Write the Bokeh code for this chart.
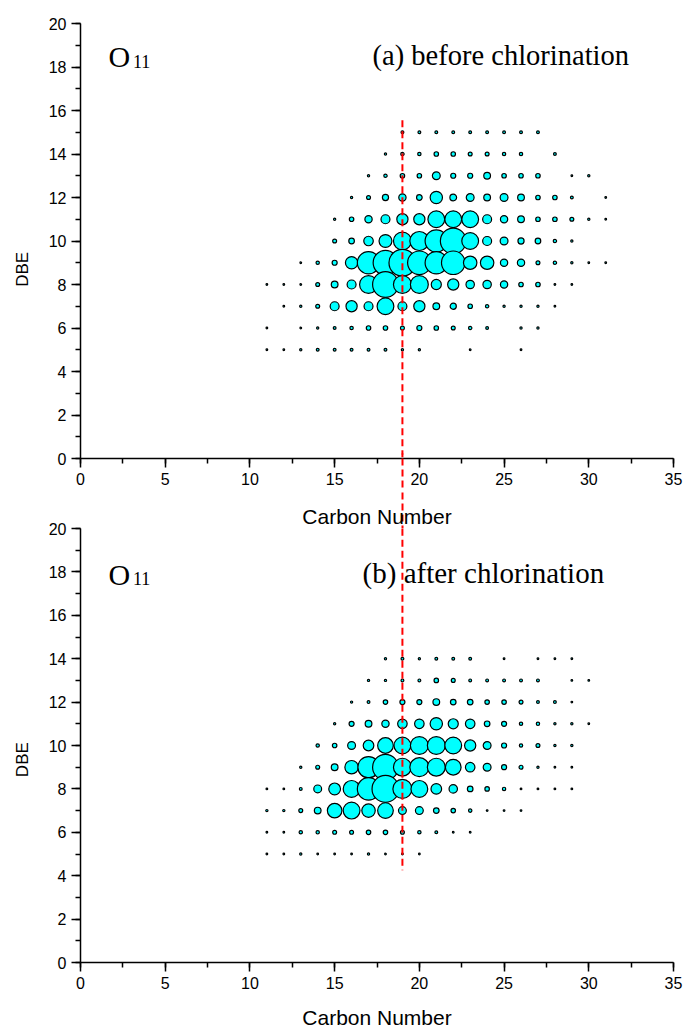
from bokeh.plotting import figure
from bokeh.layouts import column
from bokeh.models import (Range1d, SingleIntervalTicker, FixedTicker, Label,
                          LinearAxis, ColumnDataSource)
from bokeh.embed import file_html
from bokeh.resources import INLINE

# ---------------- data: (a) before chlorination ----------------
a_rows_dbe = [15, 14, 13, 12, 11, 10, 9, 8, 7, 6, 5]
a_rows_carbon = [
    list(range(19, 28)),
    [18, 19, 20, 21, 22, 23, 24, 25, 26, 28],
    [17, 18, 19, 20, 21, 22, 23, 24, 25, 26, 27, 29, 30],
    list(range(16, 30)) + [31],
    list(range(15, 32)),
    list(range(15, 30)),
    list(range(13, 32)),
    list(range(11, 30)),
    list(range(12, 29)),
    [11, 13, 14, 15, 16, 17, 18, 19, 20, 21, 22, 23, 24, 26, 27],
    list(range(11, 21)) + [23, 26],
]
a_rows_abund = [
    [10, 10, 10, 10, 10, 10, 10, 10, 10],
    [8, 12, 12, 16, 16, 14, 14, 12, 12, 10],
    [8, 12, 16, 16, 28, 18, 18, 24, 16, 16, 16, 6, 8],
    [8, 14, 22, 26, 20, 44, 24, 28, 24, 28, 24, 16, 16, 10, 6],
    [8, 16, 26, 32, 40, 40, 60, 60, 60, 32, 26, 24, 16, 16, 14, 8, 6],
    [14, 20, 34, 46, 64, 68, 80, 92, 60, 32, 28, 22, 20, 12, 8],
    [6, 12, 18, 44, 80, 88, 96, 84, 80, 84, 48, 48, 26, 26, 14, 12, 8, 6, 6],
    [6, 6, 6, 14, 24, 32, 64, 92, 64, 64, 36, 40, 30, 30, 26, 16, 16, 6, 6],
    [6, 8, 14, 32, 40, 32, 60, 32, 40, 24, 22, 16, 12, 8, 8, 8, 6],
    [6, 6, 8, 10, 12, 16, 16, 14, 18, 16, 14, 12, 10, 8, 8],
    [6, 6, 8, 10, 10, 10, 10, 10, 8, 8, 6, 6],
]

# ---------------- data: (b) after chlorination ----------------
b_rows_dbe = [14, 13, 12, 11, 10, 9, 8, 7, 6, 5]
b_rows_carbon = [
    [18, 19, 20, 21, 22, 23, 25, 27, 28, 29],
    list(range(17, 28)) + [29, 30],
    list(range(16, 30)),
    list(range(15, 31)),
    list(range(14, 30)),
    list(range(13, 30)),
    list(range(11, 30)),
    list(range(11, 27)),
    list(range(11, 24)),
    list(range(11, 21)),
]
b_rows_abund = [
    [8, 10, 8, 10, 10, 10, 6, 6, 6, 6],
    [8, 8, 10, 10, 16, 14, 10, 10, 10, 10, 10, 6, 6],
    [8, 10, 16, 18, 18, 24, 20, 20, 16, 16, 14, 10, 10, 6],
    [8, 18, 24, 26, 34, 34, 44, 36, 34, 20, 18, 12, 12, 8, 8, 6],
    [12, 16, 28, 38, 56, 60, 64, 64, 60, 40, 28, 18, 12, 14, 8, 8],
    [8, 14, 24, 48, 76, 92, 64, 68, 64, 56, 34, 28, 18, 14, 8, 6, 6],
    [6, 6, 10, 28, 42, 60, 80, 96, 68, 60, 38, 30, 20, 16, 12, 6, 6, 6, 6],
    [8, 8, 14, 24, 52, 60, 48, 56, 28, 28, 20, 16, 12, 6, 6, 6],
    [6, 6, 12, 12, 14, 14, 16, 16, 14, 12, 10, 6, 6],
    [6, 6, 8, 6, 6, 6, 8, 6, 6, 6],
]

x_label = "Carbon Number"
y_label = "DBE"
ref_carbon = 19
a_line_dbe = (15.55, -1)
b_line_dbe = (21, 4.25)
SIZE_SCALE = 0.28  # px diameter per unit of relative abundance

SANS = "Liberation Sans"
SERIF = "Liberation Serif"
RED_DASH = "7 4"
NBSP = "\u00a0"


def flatten(rows_dbe, rows_c, rows_a):
    xs, ys, ss = [], [], []
    for d, cs, ab in zip(rows_dbe, rows_c, rows_a):
        assert len(cs) == len(ab), (d, len(cs), len(ab))
        for c, v in zip(cs, ab):
            xs.append(c)
            ys.append(d)
            ss.append(v * SIZE_SCALE)
    return ColumnDataSource(dict(x=xs, y=ys, s=ss))


def style_axis(ax):
    ax.axis_line_width = 1.5
    ax.axis_line_color = "black"
    ax.major_tick_line_width = 1.5
    ax.minor_tick_line_width = 1.5
    ax.major_tick_line_color = "black"
    ax.minor_tick_line_color = "black"
    ax.major_tick_in = 0
    ax.minor_tick_in = 0
    ax.major_tick_out = 9
    ax.minor_tick_out = 5
    ax.major_label_text_font = SANS
    ax.major_label_text_font_size = "16px"
    ax.major_label_text_color = "black"
    ax.major_label_standoff = 5


def red_tick_axis(tick_in, tick_out, label=None, label_standoff=0):
    ax = LinearAxis(ticker=FixedTicker(ticks=[ref_carbon], minor_ticks=[]))
    ax.axis_line_color = None
    ax.major_tick_line_color = "red"
    ax.major_tick_line_width = 2
    ax.major_tick_line_dash = RED_DASH
    ax.major_tick_in = tick_in
    ax.major_tick_out = tick_out
    ax.minor_tick_line_color = None
    ax.major_label_text_font_size = "0px"
    ax.major_label_standoff = 0
    ax.major_label_overrides = {ref_carbon: ""}
    if label:
        ax.axis_label = label
        ax.axis_label_text_font = SANS
        ax.axis_label_text_font_size = "21px"
        ax.axis_label_text_font_style = "normal"
        ax.axis_label_text_color = "black"
        ax.axis_label_standoff = label_standoff
    return ax


def make_panel(src, title, title_x, title_y, title_size, o_y, line_span,
               height, top, bottom, show_xlabel, ylabel_pad):
    p = figure(width=684, height=height, output_backend="svg", toolbar_location=None,
               x_range=Range1d(0, 35), y_range=Range1d(0, 20),
               min_border_left=80, min_border_right=11,
               min_border_top=top, min_border_bottom=bottom)
    p.outline_line_color = None
    p.xgrid.visible = False
    p.ygrid.visible = False

    p.xaxis.ticker = SingleIntervalTicker(interval=5, num_minor_ticks=2)
    p.yaxis.ticker = SingleIntervalTicker(interval=2, num_minor_ticks=2)
    style_axis(p.xaxis[0])
    style_axis(p.yaxis[0])
    p.yaxis.axis_label = y_label + NBSP * ylabel_pad
    p.yaxis.axis_label_text_font = SANS
    p.yaxis.axis_label_text_font_size = "17px"
    p.yaxis.axis_label_text_font_style = "normal"
    p.yaxis.axis_label_text_color = "black"
    p.yaxis.axis_label_standoff = 14
    if show_xlabel:
        p.xaxis.axis_label = x_label
        p.xaxis.axis_label_text_font = SANS
        p.xaxis.axis_label_text_font_size = "21px"
        p.xaxis.axis_label_text_font_style = "normal"
        p.xaxis.axis_label_text_color = "black"
        p.xaxis.axis_label_standoff = 14

    p.scatter("x", "y", size="s", source=src, fill_color="#00FFFF",
              line_color="black", line_width=1.2)

    p.add_layout(Label(x=1.65, y=o_y, text="O", text_font=SERIF,
                       text_font_size="30px", text_color="black",
                       text_baseline="alphabetic"))
    p.add_layout(Label(x=3.1, y=o_y - 0.21, text="11", text_font=SERIF,
                       text_font_size="18px", text_color="black",
                       text_baseline="alphabetic"))
    p.add_layout(Label(x=title_x, y=title_y, text=title, text_font=SERIF,
                       text_font_size=title_size, text_color="black",
                       text_baseline="alphabetic"))
    p.segment(x0=[ref_carbon], y0=[line_span[0]], x1=[ref_carbon], y1=[line_span[1]],
              line_color="red", line_width=2, line_dash=RED_DASH)
    return p


# top panel: frame 23..458, tick labels below, then a red dashed continuation
p1 = make_panel(flatten(a_rows_dbe, a_rows_carbon, a_rows_abund),
                "(a) before chlorination", 17.24, 18.53, "28.5px", 18.48,
                a_line_dbe, 492, 23, 34, False, 12)
p1.add_layout(red_tick_axis(34, 0), "below")

# bottom panel: its top border carries the top panel's x-axis title
p2 = make_panel(flatten(b_rows_dbe, b_rows_carbon, b_rows_abund),
                "(b) after chlorination", 16.65, 17.95, "29px", 17.9,
                b_line_dbe, 542, 36, 72, True, 6)
p2.add_layout(red_tick_axis(0, 36, x_label, -35), "above")

p = column(p1, p2, spacing=0)
open("out.html", "w").write(file_html(p, INLINE))
